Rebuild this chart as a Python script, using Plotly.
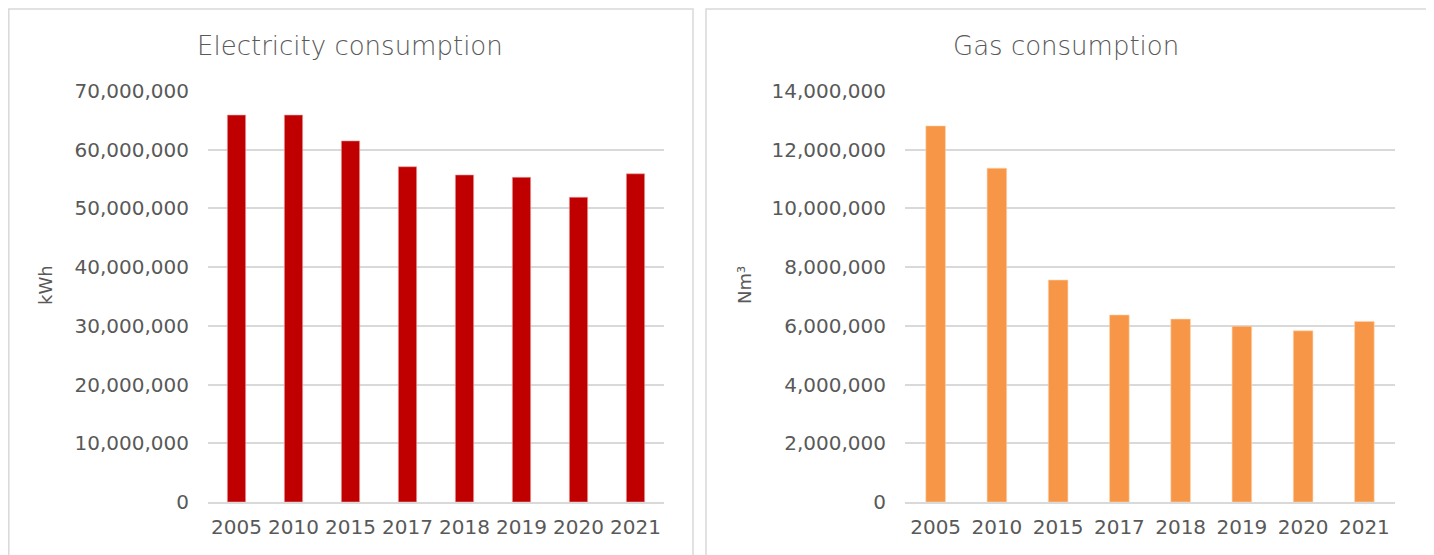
import plotly.graph_objects as go
from plotly.subplots import make_subplots

years = ["2005", "2010", "2015", "2017", "2018", "2019", "2020", "2021"]
electricity_kwh = [65900000, 65900000, 61500000, 57100000, 55700000, 55300000, 51900000, 55900000]
gas_nm3 = [12810000, 11370000, 7560000, 6370000, 6230000, 5990000, 5830000, 6150000]

FONT = "DejaVu Sans"
GREY = "#595959"
W, H = 1434, 555
OFF = 8  # page body margin shifts the figure by this much


def px(x):
    return (x - OFF) / W


def py(y):
    return 1 - (y - OFF) / H


fig = make_subplots(rows=1, cols=2)

fig.add_trace(go.Bar(x=years, y=electricity_kwh, marker=dict(color="#C00000", line=dict(color="#E8A0A0", width=0.6)),
                     name="Electricity"), row=1, col=1)
fig.add_trace(go.Bar(x=years, y=gas_nm3, marker=dict(color="#F79646", line=dict(color="#FBD3B0", width=0.6)),
                     name="Gas"), row=1, col=2)

y_dom = [py(502), py(91)]
fig.update_layout(
    xaxis=dict(domain=[px(208), px(664)]),
    xaxis2=dict(domain=[px(905), px(1395)]),
    yaxis=dict(domain=y_dom, range=[0, 70000000], dtick=10000000),
    yaxis2=dict(domain=y_dom, range=[0, 14000000], dtick=2000000),
)

fig.update_xaxes(showgrid=False, showline=True, linecolor="#D9D9D9", linewidth=2, automargin=False,
                 ticks="outside", ticklen=6, tickcolor="rgba(0,0,0,0)",
                 tickfont=dict(family=FONT, size=20, color=GREY), fixedrange=True)
fig.update_yaxes(showgrid=True, gridcolor="#D9D9D9", gridwidth=1.5, zeroline=False, automargin=False,
                 showline=False, tickformat=",", ticks="outside", ticklen=14,
                 tickcolor="rgba(0,0,0,0)", tickfont=dict(family=FONT, size=20, color=GREY))

# panel frames
for x0, x1 in [(OFF + 0.8, 693), (706, 1428)]:
    fig.add_shape(type="rect", xref="paper", yref="paper",
                  x0=px(x0), x1=px(x1), y0=-0.05, y1=py(9),
                  line=dict(color="#D9D9D9", width=1.5), fillcolor="rgba(0,0,0,0)", layer="below")

titles = [("Electricity consumption", 350), ("Gas consumption", 1066)]
for text, cx in titles:
    fig.add_annotation(text=text, x=px(cx), y=py(46), xref="paper", yref="paper",
                       showarrow=False, xanchor="center", yanchor="middle",
                       font=dict(family=FONT, size=26, color=GREY, weight=300))

for text, cx in [("kWh", 45), ("Nm³", 744)]:
    fig.add_annotation(text=text, x=px(cx), y=py(285), xref="paper", yref="paper",
                       showarrow=False, textangle=-90, xanchor="center", yanchor="middle",
                       font=dict(family=FONT, size=18, color=GREY))

fig.update_layout(
    width=W, height=H,
    margin=dict(l=0, r=0, t=0, b=0, autoexpand=False),
    paper_bgcolor="white", plot_bgcolor="white",
    showlegend=False, bargap=0.68,
)

fig.write_html("out.html")
